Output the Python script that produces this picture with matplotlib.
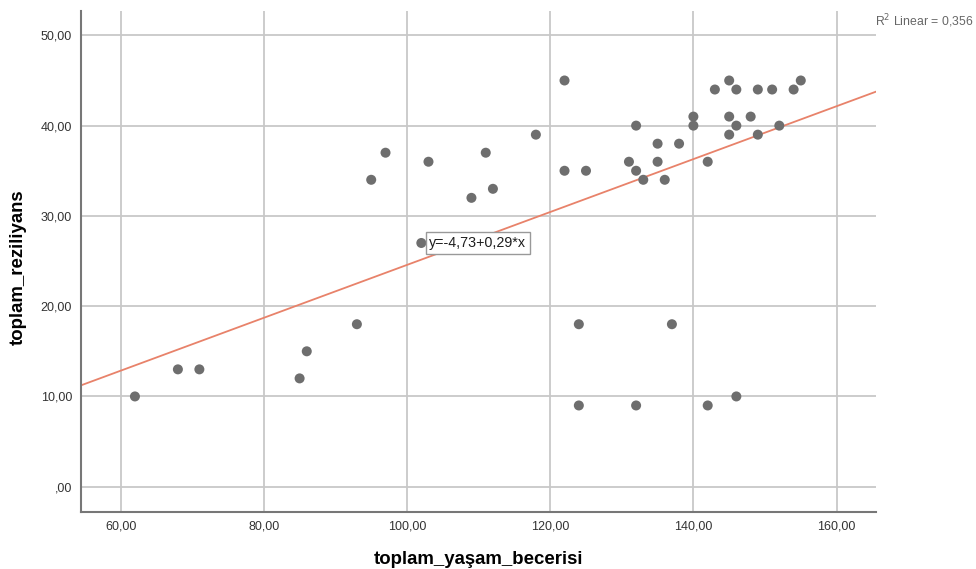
import matplotlib.pyplot as plt
import numpy as np
from matplotlib.ticker import FuncFormatter

# veriler
yasam = [62, 68, 71, 85, 86, 93, 95, 97, 102, 103, 109, 111, 112, 118, 122, 122,
         124, 124, 125, 131, 132, 132, 132, 133, 135, 135, 136, 137, 138, 140, 140,
         142, 142, 143, 145, 145, 145, 146, 146, 146, 148, 149, 149, 151, 152, 154, 155]
reziliyans = [10, 13, 13, 12, 15, 18, 34, 37, 27, 36, 32, 37, 33, 39, 45, 35,
              18, 9, 35, 36, 40, 35, 9, 34, 38, 36, 34, 18, 38, 41, 40,
              36, 9, 44, 45, 41, 39, 44, 40, 10, 41, 44, 39, 44, 40, 44, 45]
x_ticks = [60, 80, 100, 120, 140, 160]
y_ticks = [0, 10, 20, 30, 40, 50]

# SPSS'in verdigi dogru katsayilari
kesisim = -4.73
egim = 0.293
denklem = "y=-4,73+0,29*x"
r2_text = "R$^2$ Linear = 0,356"

plt.rcParams['font.family'] = ['Liberation Sans', 'DejaVu Sans']

x = np.array(yasam)
y = np.array(reziliyans)

fig = plt.figure(figsize=(9.76, 5.69), dpi=100)
ax = fig.add_axes([0.0825, 0.1002, 0.8150, 0.8805])

ax.set_xlim(54.4, 165.5)
ax.set_ylim(-2.8, 52.7)

# grid
ax.set_xticks(x_ticks)
ax.set_yticks(y_ticks)
ax.grid(True, color='#c8c8c8', linewidth=1.3)
ax.set_axisbelow(True)

# regresyon cizgisi
xs = np.array(ax.get_xlim())
ax.plot(xs, kesisim + egim * xs, color='#e8826a', linewidth=1.3, zorder=2)

ax.scatter(x, y, s=52, color='#6e6e6e', edgecolors='none', zorder=3)

# denklem kutusu
ax.text(x[8] + 1.1, y[8], denklem, fontsize=10.3, va='center', ha='left', color='#1e1e1e',
        bbox=dict(boxstyle='square,pad=0.25', facecolor='white', edgecolor='#999999', linewidth=1),
        zorder=4)

fmt = FuncFormatter(lambda v, p: ("%.2f" % v).replace('.', ',').lstrip('0') if v == 0
                    else ("%.2f" % v).replace('.', ','))
ax.xaxis.set_major_formatter(fmt)
ax.yaxis.set_major_formatter(fmt)
ax.tick_params(length=0, labelsize=9, colors='#333333', pad=6)

for s in ['top', 'right']:
    ax.spines[s].set_visible(False)
for s in ['left', 'bottom']:
    ax.spines[s].set_color('#777777')
    ax.spines[s].set_linewidth(1.5)

ax.set_xlabel('toplam_yaşam_becerisi', fontsize=13.4, fontweight='bold')
ax.xaxis.set_label_coords(0.5, -0.078)
ax.set_ylabel('toplam_reziliyans', fontsize=13.4, fontweight='bold')
ax.yaxis.set_label_coords(-0.068, 0.489)

fig.text(0.897, 0.962, r2_text, fontsize=8.8, color='#666666', ha='left', va='center')

fig.savefig('out.png', dpi=100)
